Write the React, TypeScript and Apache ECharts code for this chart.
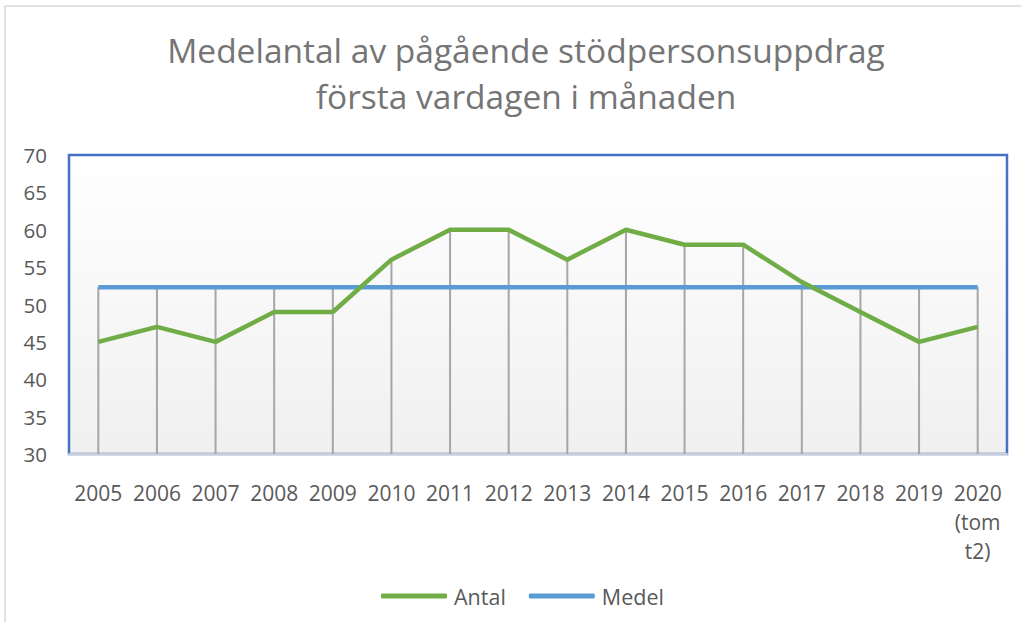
import React, { useEffect, useRef } from "react";
import * as echarts from "echarts";

const categories = [
  "2005", "2006", "2007", "2008", "2009", "2010", "2011", "2012",
  "2013", "2014", "2015", "2016", "2017", "2018", "2019", "2020 (tom t2)",
];
const antal = [45, 47, 45, 49, 49, 56, 60, 60, 56, 60, 58, 58, 53, 49, 45, 47];
const medel = [
  52.3, 52.3, 52.3, 52.3, 52.3, 52.3, 52.3, 52.3,
  52.3, 52.3, 52.3, 52.3, 52.3, 52.3, 52.3, 52.3,
];
const yMin = 30;
const yMax = 70;
const yStep = 5;
const titleText = "Medelantal av pågående stödpersonsuppdrag\nförsta vardagen i månaden";

const FONT = "Open Sans";

export default function App() {
  const ref = useRef<HTMLDivElement>(null);
  useEffect(() => {
    if (!ref.current) return;
    const chart = echarts.init(ref.current, null, { renderer: "svg" });
    const dropData = categories.map((_, i) => [i, Math.max(antal[i], medel[i])]);
    chart.setOption({
      animation: false,
      backgroundColor: "#ffffff",
      textStyle: { fontFamily: FONT },
      graphic: [
        {
          type: "rect",
          shape: { x: 5, y: 6, width: 1040, height: 700 },
          style: { fill: "none", stroke: "#d9d9d9", lineWidth: 1.5 },
          silent: true,
          z: -10,
        },
      ],
      title: {
        text: titleText,
        left: 521,
        textAlign: "center",
        top: 22,
        textStyle: {
          fontFamily: FONT,
          fontSize: 33.5,
          fontWeight: "normal",
          color: "#757575",
          lineHeight: 46,
        },
      },
      legend: {
        data: ["Antal", "Medel"],
        bottom: 15,
        left: 381,
        padding: 0,
        icon: "roundRect",
        itemWidth: 66,
        itemHeight: 5,
        itemGap: 23,
        textStyle: { fontFamily: FONT, fontSize: 21.5, color: "#595959", padding: [0, 0, 0, 2] },
      },
      grid: {
        left: 69,
        right: 14,
        top: 155,
        bottom: 168,
        show: true,
        borderColor: "#4472c4",
        borderWidth: 2.5,
        backgroundColor: new echarts.graphic.LinearGradient(0, 0, 0, 1, [
          { offset: 0, color: "#ffffff" },
          { offset: 1, color: "#f0f0f0" },
        ]),
      },
      xAxis: {
        type: "category",
        data: categories,
        boundaryGap: true,
        axisLine: { show: true, lineStyle: { color: "#c8ccd4", width: 2 } },
        axisTick: { show: false },
        splitLine: { show: false },
        axisLabel: {
          interval: 0,
          margin: 24,
          fontFamily: FONT,
          fontSize: 21,
          color: "#595959",
          lineHeight: 29,
          formatter: (v: string) => v.split(" ").join("\n"),
        },
      },
      yAxis: {
        type: "value",
        min: yMin,
        max: yMax,
        interval: yStep,
        axisLine: { show: false },
        axisTick: { show: false },
        splitLine: { show: false },
        axisLabel: {
          margin: 22,
          fontFamily: FONT,
          fontSize: 20.5,
          color: "#595959",
          padding: [9, 0, 0, 0],
        },
      },
      series: [
        {
          type: "custom",
          name: "drop",
          silent: true,
          z: 1,
          encode: { x: 0, y: 1 },
          data: dropData,
          renderItem: (params: any, api: any) => {
            const i = api.value(0);
            const top = api.coord([i, api.value(1)]);
            const bot = api.coord([i, yMin]);
            return {
              type: "line",
              shape: { x1: top[0], y1: top[1], x2: bot[0], y2: bot[1] },
              style: { stroke: "#a6a6a6", lineWidth: 2 },
            };
          },
        },
        {
          type: "line",
          name: "Medel",
          data: medel,
          showSymbol: false,
          symbol: "none",
          z: 3,
          lineStyle: { color: "#5b9bd5", width: 4.5 },
          itemStyle: { color: "#5b9bd5" },
        },
        {
          type: "line",
          name: "Antal",
          data: antal,
          showSymbol: false,
          symbol: "none",
          z: 4,
          lineStyle: { color: "#70ad47", width: 4.5 },
          itemStyle: { color: "#70ad47" },
        },
      ],
    });
    return () => chart.dispose();
  }, []);
  return (
    <div
      ref={ref}
      style={{ position: "absolute", left: 0, top: 0, width: 1021, height: 622 }}
    />
  );
}
